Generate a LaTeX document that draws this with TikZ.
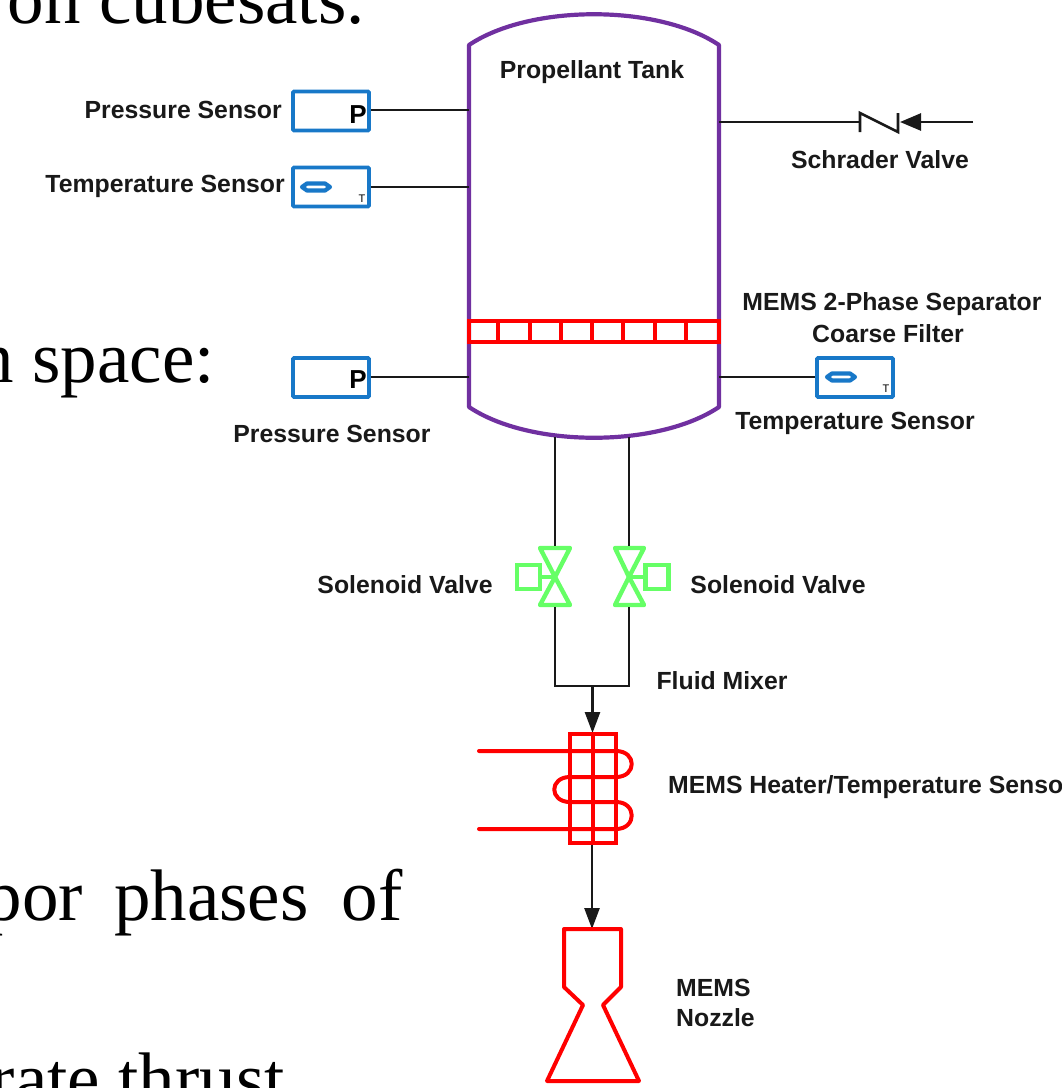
\documentclass[tikz,border=0pt]{standalone}
\usepackage{fontspec}
\setmainfont{Liberation Sans}
\newfontfamily\serifbg{Liberation Serif}
\usetikzlibrary{arrows.meta,calc}
\definecolor{sblue}{HTML}{1878C8}
\definecolor{tankp}{HTML}{7030A0}
\definecolor{vgreen}{HTML}{66FF66}
\tikzset{
  lab/.style={font=\fontsize{24.8}{27}\selectfont\bfseries,inner sep=0pt,text=black!90},
  bg/.style={font=\fontsize{73}{76}\selectfont\serifbg,inner sep=0pt,anchor=base east,text=black},
  sbox/.style={draw=sblue,line width=3.8pt,rounded corners=1pt,minimum width=76pt,minimum height=39pt,inner sep=0pt},
  wire/.style={draw=black!90,line width=2.6pt},
  tankline/.style={draw=tankp,line width=4.2pt,line join=round},
  redl/.style={draw=red,line width=4pt,line join=round},
  valve/.style={draw=vgreen,line width=4.4pt,line join=round},
  flow/.style={wire,-{Triangle[length=21pt,width=15pt]}},
  thermo/.style={draw=sblue,fill=white,line width=4.2pt,line join=round}
}
\newcommand{\thermosym}[1]{%
  \draw[thermo] ($(#1)+(-14,0)$) -- ($(#1)+(-9,-3.5)$) -- ($(#1)+(9,-3.5)$) -- ($(#1)+(14,0)$) -- ($(#1)+(9,3.5)$) -- ($(#1)+(-9,3.5)$) -- cycle;}
\begin{document}
\begin{tikzpicture}[x=1pt,y=-1pt]
\useasboundingbox (0,0) rectangle (1062,1088);
\clip (0,0) rectangle (1062,1088);
% background page text
\node[bg] (bga) at (365,23) {on cubesats.};
\node[bg] (bgb) at (215,382) {n space:};
\node[bg] (bgc) at (403,920) {por\hspace{13pt} phases\hspace{15pt} of};
\node[bg] (bgd) at (285,1103) {rate thrust};

% tank
\coordinate (tTL) at (469,45);
\coordinate (tTR) at (719,45);
\coordinate (tBL) at (469,407);
\coordinate (tBR) at (719,407);
\draw[tankline] (tTL) .. controls (530,4) and (658,4) .. (tTR) -- (tBR)
  .. controls (658,448) and (530,448) .. (tBL) -- cycle;
% filter
\node[draw=red,line width=4pt,minimum width=250pt,minimum height=21pt,inner sep=0pt] (filter) at (594,331.5) {};
\foreach \k in {1,...,7}{ \draw[redl] ($(filter.north west)+(31.25*\k,0)$) -- ($(filter.south west)+(31.25*\k,0)$); }

% sensors
\node[sbox] (ps1) at (331,111) {};
\node[sbox] (ts1) at (331,187) {};
\node[sbox] (ps2) at (331,377.5) {};
\node[sbox] (ts2) at (855,377.5) {};
\node[font=\fontsize{26}{26}\selectfont\bfseries,inner sep=0pt,anchor=east] (p1) at (367,115) {P};
\node[font=\fontsize{26}{26}\selectfont\bfseries,inner sep=0pt,anchor=east] (p2) at (367,380) {P};
\node[font=\fontsize{11}{11}\selectfont,inner sep=0pt] (t1) at (362,199) {T};
\node[font=\fontsize{11}{11}\selectfont,inner sep=0pt] (t2) at (886,389) {T};
\coordinate (th1) at (316,187);
\coordinate (th2) at (841,377);
\thermosym{th1}
\thermosym{th2}
\coordinate (wp1) at (469,110);
\coordinate (wt1) at (469,187);
\coordinate (wp2) at (469,377);
\coordinate (wt2) at (719,377);
\draw[wire] (ps1.east |- wp1) -- (wp1);
\draw[wire] (ts1.east |- wt1) -- (wt1);
\draw[wire] (ps2.east |- wp2) -- (wp2);
\draw[wire] (wt2) -- (ts2.west |- wt2);

% schrader valve
\coordinate (sA) at (719,122);
\coordinate (sB) at (860,122);
\coordinate (sC) at (898,122);
\coordinate (sD) at (973,122);
\draw[wire] (sA) -- (sB);
\draw[wire,line join=miter] ($(sB)+(0,10)$) -- ($(sB)+(0,-9)$) -- ($(sC)+(0,10)$) -- ($(sC)+(0,-9)$);
\draw[wire,-{Triangle[length=21pt,width=17pt]}] (sD) -- ($(sC)+(2,0)$);

% valves
\coordinate (vL) at (555,577);
\coordinate (vR) at (629,577);
\draw[valve] (vL) -- (540,548) -- (570,548) -- cycle;
\draw[valve] (vL) -- (540,605) -- (570,605) -- cycle;
\node[draw=vgreen,line width=4.4pt,minimum width=23pt,minimum height=24pt,inner sep=0pt] (sqL) at (528.5,577) {};
\draw[valve] (sqL) -- (vL);
\draw[valve] (vR) -- (615,548) -- (644,548) -- cycle;
\draw[valve] (vR) -- (615,605) -- (644,605) -- cycle;
\node[draw=vgreen,line width=4.4pt,minimum width=23pt,minimum height=24pt,inner sep=0pt] (sqR) at (657,577) {};
\draw[valve] (vR) -- (sqR);

% pipes
\coordinate (pL0) at (555,437);
\coordinate (pR0) at (629,437);
\coordinate (vLt) at (555,546);
\coordinate (vRt) at (629,546);
\coordinate (vLb) at (555,607);
\coordinate (vRb) at (629,607);
\coordinate (mL) at (555,686);
\coordinate (mR) at (629,686);
\coordinate (mC) at (592.5,686);
\coordinate (hT) at (592.5,733);
\coordinate (hB) at (592,843);
\coordinate (nT) at (592,929);
\draw[wire] (pL0) -- (vLt);
\draw[wire] (pR0) -- (vRt);
\draw[wire,line join=miter] (vLb) -- (mL) -- (mR) -- (vRb);
\draw[flow] (mC) -- (hT);
\draw[flow] (hB) -- (nT);

% heater
\node[draw=red,line width=4pt,minimum width=46pt,minimum height=109pt,inner sep=0pt] (heater) at (593,788.5) {};
\draw[redl] (592.5,734) -- (592.5,843);
\draw[redl,line cap=round] (479,751) -- (616,751) .. controls (637,751) and (637,777) .. (616,777)
  -- (570,777) .. controls (549,777) and (549,802) .. (570,802)
  -- (616,802) .. controls (637,802) and (637,829) .. (616,829)
  -- (479,829);

% nozzle
\draw[redl] (nT) -- (621,929) -- (621,987) -- (603,1005) -- (639,1081) -- (547,1081) -- (583,1005) -- (564,987) -- (564,929) -- cycle;

% labels
\node[lab] (l1) at (592,72) {Propellant Tank};
\node[lab,anchor=east] (l2) at (282,110) {Pressure Sensor};
\node[lab,anchor=east] (l3) at (285,186) {Temperature Sensor};
\node[lab] (l4) at (880,160) {Schrader Valve};
\node[lab] (l5) at (892,304) {MEMS 2-Phase Separator};
\node[lab] (l6) at (888,334) {Coarse Filter};
\node[lab] (l7) at (855,423) {Temperature Sensor};
\node[lab] (l8) at (332,434) {Pressure Sensor};
\node[lab] (l9) at (405,585) {Solenoid Valve};
\node[lab] (l10) at (778,585) {Solenoid Valve};
\node[lab] (l11) at (722,681) {Fluid Mixer};
\node[lab,anchor=west] (l12) at (668,787) {MEMS Heater/Temperature Sensor};
\node[lab,anchor=west] (l13) at (676,988) {MEMS};
\node[lab,anchor=west] (l14) at (676,1018) {Nozzle};
\end{tikzpicture}
\end{document}
